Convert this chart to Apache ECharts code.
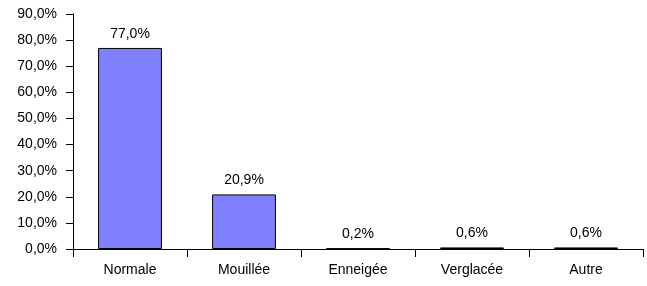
<!DOCTYPE html>
<html>
<head>
<meta charset="utf-8">
<script src="https://cdn.jsdelivr.net/npm/echarts@6/dist/echarts.min.js"></script>
<style>
  html, body { margin: 0; padding: 0; background: #fff; }
  #chart { width: 647px; height: 286px; }
</style>
</head>
<body>
<div id="chart"></div>
<script>
const categories = ['Normale', 'Mouillée', 'Enneigée', 'Verglacée', 'Autre'];
const values = [77.0, 20.9, 0.2, 0.6, 0.6];
const yMax = 90;
const yStep = 10;

const fmt = v => v.toFixed(1).replace('.', ',') + '%';
const font = 'Liberation Sans, Arial, sans-serif';
const gridBox = { left: 73, right: 4, top: 14, bottom: 37, containLabel: false };
const xTick = 8;
const yTick = 7;

const chart = echarts.init(document.getElementById('chart'));

// twin axes in an identical second grid draw the inward half of each tick
const xAxisFor = (gi, twin) => ({
  type: 'category',
  gridIndex: gi,
  data: categories,
  position: 'bottom',
  axisLine: { show: true, lineStyle: { color: '#000', width: 1 } },
  axisTick: { show: true, inside: twin, length: twin ? -xTick : xTick, lineStyle: { color: '#000' } },
  axisLabel: twin ? { show: false } :
    { color: '#000', fontFamily: font, fontSize: 14, margin: 14 },
  splitLine: { show: false }
});
const yAxisFor = (gi, twin) => ({
  type: 'value',
  gridIndex: gi,
  min: 0,
  max: yMax,
  interval: yStep,
  position: 'left',
  axisLine: { show: true, lineStyle: { color: '#000', width: 1 } },
  axisTick: { show: true, inside: twin, length: twin ? -yTick : yTick, lineStyle: { color: '#000' } },
  axisLabel: twin ? { show: false } :
    { color: '#000', fontFamily: font, fontSize: 14, margin: 16, formatter: fmt },
  splitLine: { show: false }
});

chart.setOption({
  animation: false,
  grid: [gridBox, gridBox],
  xAxis: [xAxisFor(0, false), xAxisFor(1, true)],
  yAxis: [yAxisFor(0, false), yAxisFor(1, true)],
  series: [{
    type: 'bar',
    xAxisIndex: 0,
    yAxisIndex: 0,
    data: values,
    barWidth: '56%',
    itemStyle: { color: '#8080FF', borderColor: '#000', borderWidth: 1 },
    label: {
      show: true,
      position: 'top',
      distance: 7,
      color: '#000',
      fontFamily: font,
      fontSize: 14,
      formatter: p => fmt(p.value)
    }
  }, {
    // invisible twin so the second grid gets built
    type: 'bar',
    xAxisIndex: 1,
    yAxisIndex: 1,
    data: values,
    silent: true,
    itemStyle: { opacity: 0 }
  }]
});
</script>
</body>
</html>
